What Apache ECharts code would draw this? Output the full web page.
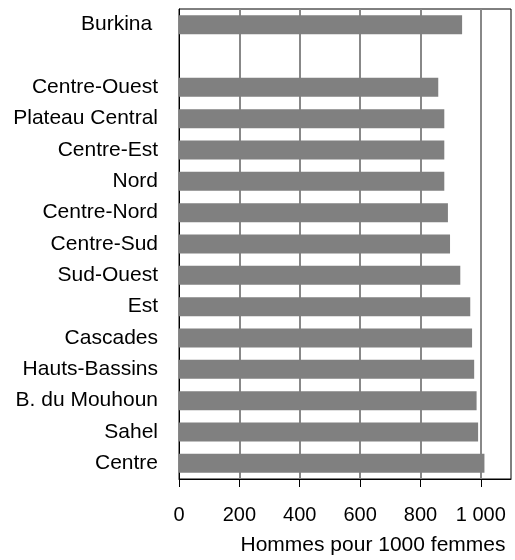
<!DOCTYPE html>
<html>
<head>
<meta charset="utf-8">
<script src="https://cdn.jsdelivr.net/npm/echarts@6/dist/echarts.min.js"></script>
<style>
html,body{margin:0;padding:0;background:#fff;}
#chart{width:515px;height:560px;}
</style>
</head>
<body>
<div id="chart"></div>
<script>
const categories = ['Burkina ', '', 'Centre-Ouest', 'Plateau Central', 'Centre-Est', 'Nord', 'Centre-Nord', 'Centre-Sud', 'Sud-Ouest', 'Est', 'Cascades', 'Hauts-Bassins', 'B. du Mouhoun', 'Sahel', 'Centre'];
const values = [938, null, 859, 879, 879, 879, 891, 898, 932, 965, 971, 978, 986, 991, 1012];
const xTicks = [0, 200, 400, 600, 800, 1000];
const xTitle = 'Hommes pour 1000 femmes';

const FONT = "'Liberation Sans', Arial, sans-serif";
const chart = echarts.init(document.getElementById('chart'), null, {renderer: 'canvas'});
chart.setOption({
  animation: false,
  backgroundColor: '#fff',
  grid: {
    left: 179, top: 9, width: 332, height: 470,
    containLabel: false, outerBoundsMode: 'none',
    show: true, borderColor: '#000', borderWidth: 1, backgroundColor: 'transparent'
  },
  xAxis: {
    type: 'value', min: 0, max: 1100, interval: 200,
    axisLine: {show: true, lineStyle: {color: '#000', width: 1}},
    axisTick: {show: true, length: 8, inside: false, lineStyle: {color: '#000', width: 1}, customValues: xTicks},
    axisLabel: {
      customValues: xTicks,
      margin: 26, fontSize: 20, color: '#000', fontFamily: FONT,
      formatter: v => v >= 1000 ? String(v).replace(/(\d)(\d{3})$/, '$1 $2') : String(v)
    },
    splitLine: {show: true, lineStyle: {color: '#888', width: 2}}
  },
  yAxis: {
    type: 'category', data: categories, inverse: true,
    axisLine: {show: true, lineStyle: {color: '#000', width: 1}},
    axisTick: {show: false},
    axisLabel: {margin: 21, fontSize: 21, color: '#000', fontFamily: FONT, interval: 0},
    splitLine: {show: false}
  },
  series: [{
    type: 'bar', data: values, barWidth: 19,
    itemStyle: {color: '#808080'}
  }],
  graphic: [{
    type: 'text', x: 373, y: 545,
    style: {text: xTitle, fontSize: 21, fontFamily: FONT, fill: '#000', align: 'center', verticalAlign: 'middle'}
  }]
});
</script>
</body>
</html>
